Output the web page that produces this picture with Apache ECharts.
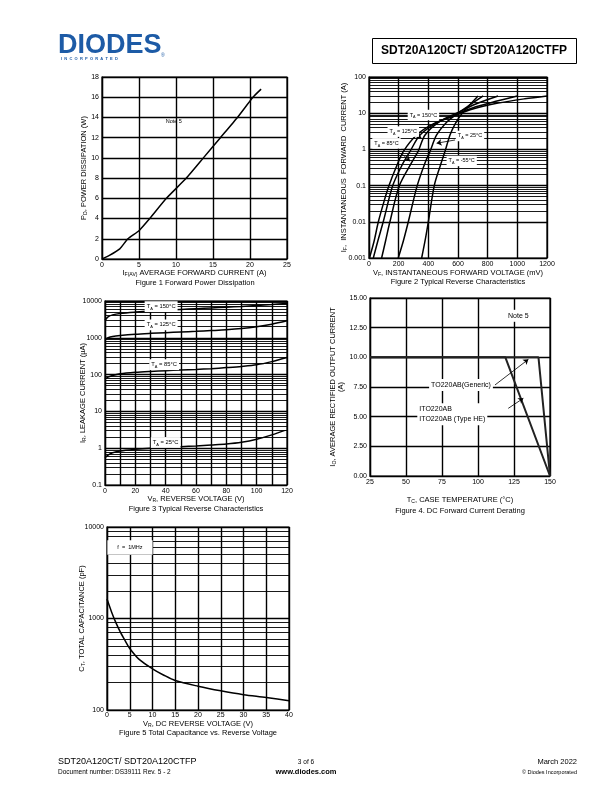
<!DOCTYPE html>
<html><head><meta charset="utf-8">
<script src="https://cdn.jsdelivr.net/npm/echarts@6/dist/echarts.min.js"></script>
<style>html,body{margin:0;padding:0;background:#fff}#c{width:612px;height:792px}</style>
</head><body><div id="c"></div>
<script>
const FONT = '"Liberation Sans", Arial, sans-serif';

// ---------- Figure 1: Forward power dissipation ----------
const fig1Current = [0, 1, 2.4, 3.5, 5, 6.45, 8.7, 11.4, 13.7, 16, 18.3, 20.4, 21.5];
const fig1Power   = [0, 0.35, 1.0, 2.0, 2.8, 4.0, 6.0, 8.0, 10.0, 12.0, 14.0, 16.0, 16.8];

// ---------- Figure 2: forward characteristics (mV, A) ----------
const fig2Names = ['150', '125', '85', '25', '-55'];
const fig2_150 = [[3,0.001],[35,0.003],[63,0.01],[100,0.035],[135,0.1],[180,0.3],[231,0.87],[321,2.5],[430,5],[560,8],[700,13],[870,19],[1050,25],[1200,30]];
const fig2_125 = [[29,0.001],[60,0.003],[96,0.01],[160,0.1],[220,0.35],[276,0.87],[344,2.5],[460,5.5],[580,9],[720,15],[870,22],[1000,30]];
const fig2_85  = [[85,0.001],[112,0.003],[141,0.01],[205,0.1],[290,0.45],[332,0.9],[378,2.5],[480,6],[590,10],[720,18],[870,30]];
const fig2_25  = [[197,0.001],[232,0.003],[265,0.01],[325,0.1],[380,0.45],[411,0.87],[456,2.5],[530,6],[600,10],[690,18],[770,30]];
const fig2_m55 = [[355,0.001],[378,0.003],[400,0.01],[440,0.1],[480,0.35],[512,0.87],[546,2.5],[580,5],[620,9],[680,17],[735,30]];

// ---------- Figure 3: reverse characteristics ----------
const fig3Voltage = [0, 2, 5, 10, 20, 30, 40, 50, 60, 70, 80, 90, 100, 110, 120];
const fig3_150 = [3000, 3700, 4200, 4600, 5000, 5300, 5600, 5900, 6200, 6500, 6800, 7100, 7500, 8000, 8600];
const fig3_125 = [900, 1000, 1080, 1150, 1250, 1320, 1380, 1440, 1500, 1570, 1650, 1780, 2000, 2350, 2900];
const fig3_85  = [75, 85, 95, 105, 115, 122, 128, 133, 138, 145, 155, 167, 185, 225, 290];
const fig3_25  = [0.55, 0.65, 0.75, 0.84, 0.93, 1.0, 1.05, 1.1, 1.15, 1.22, 1.3, 1.45, 1.75, 2.3, 3.2];

// ---------- Figure 4: derating ----------
const fig4TempTO  = [25, 142, 150];
const fig4CurrTO  = [10, 10, 0];
const fig4TempITO = [25, 119, 150];
const fig4CurrITO = [10, 10, 0];

// ---------- Figure 5: capacitance ----------
const fig5Voltage = [0, 1, 2, 3, 4, 5, 7, 10, 12.5, 15, 20, 25, 30, 35, 40];
const fig5Cap     = [1630, 1180, 890, 700, 570, 470, 360, 282, 240, 210, 182, 162, 147, 137, 126];

const zip = (a, b) => a.map((v, i) => [v, b[i]]);
const minorVals = (lo, hi) => { const r = []; for (let k = lo; k < hi; k++) for (let m = 2; m <= 9; m++) r.push({yAxis: +(m * Math.pow(10, k)).toPrecision(3)}); return r; };
const logFmt = v => String(+Number(v).toPrecision(3));
const plainFmt = v => String(v);

const BLK = '#000';
const axisLine = {show: true, lineStyle: {color: BLK, width: 1.2}};
const split = {show: true, lineStyle: {color: BLK, width: 1.4}};
const tick = {show: false};
const lbl = {color: BLK, fontSize: 7, fontFamily: FONT, margin: 3, formatter: plainFmt};
const rich = (fs) => ({n: {fontSize: fs, fontFamily: FONT, color: BLK}, s: {fontSize: fs * 0.68, fontFamily: FONT, color: BLK, verticalAlign: 'bottom'}});
const nameStyle = {color: BLK, fontSize: 7.5, fontFamily: FONT, rich: rich(7.5)};
const minorLine = (data) => ({z: 1, silent: true, symbol: ['none', 'none'], label: {show: false}, lineStyle: {color: BLK, width: 0.9, type: 'solid'}, emphasis: {disabled: true}, data});
const arrowLine = (pairs) => ({z: 6, silent: true, symbol: ['none', 'arrow'], symbolSize: 5, label: {show: false}, lineStyle: {color: BLK, width: 0.8, type: 'solid'}, emphasis: {disabled: true},
  data: pairs.map(p => [{coord: p[0]}, {coord: p[1]}])});
const textMarks = (items, fs, opts) => ({z: 10, silent: true, symbol: 'rect', symbolSize: 1, itemStyle: {color: 'rgba(0,0,0,0)'},
  data: items.map(it => ({coord: it[0], value: 0, label: Object.assign({show: true, position: it[2] || 'inside', distance: 0, formatter: it[1], color: BLK, fontSize: fs, fontFamily: FONT,
    backgroundColor: '#fff', padding: [1, 2], lineHeight: fs + 3, rich: rich(fs)}, opts || {})}))});
const lineS = (x, y, data, extra) => Object.assign({type: 'line', xAxisIndex: x, yAxisIndex: y, data, showSymbol: false, symbol: 'none', smooth: 0.3, silent: true,
  lineStyle: {color: BLK, width: 1.5}, itemStyle: {color: BLK}, animation: false}, extra || {});

const grids = [
  {left: 102, top: 77, width: 185, height: 182},
  {left: 369, top: 77, width: 178, height: 181},
  {left: 105, top: 301, width: 182, height: 184},
  {left: 370, top: 298, width: 180, height: 178},
  {left: 107, top: 527, width: 182, height: 183}
].map(g => Object.assign(g, {show: true, borderColor: BLK, borderWidth: 1.2, backgroundColor: 'transparent', containLabel: false}));

const xAxes = [
  {gridIndex: 0, type: 'value', min: 0, max: 25, interval: 5, name: '{n|I}{s|F(AV)}{n| AVERAGE FORWARD CURRENT (A)}', nameGap: 10},
  {gridIndex: 1, type: 'value', min: 0, max: 1200, interval: 200, name: '{n|V}{s|F}{n|, INSTANTANEOUS FORWARD VOLTAGE (mV)}', nameGap: 11},
  {gridIndex: 2, type: 'value', min: 0, max: 120, interval: 20, name: '{n|V}{s|R}{n|, REVERSE VOLTAGE (V)}', nameGap: 10,
    minorTick: {show: false, splitNumber: 2}, minorSplitLine: {show: true, lineStyle: {color: BLK, width: 1.4}}},
  {gridIndex: 3, type: 'value', min: 25, max: 150, interval: 25, name: '{n|T}{s|C}{n|, CASE TEMPERATURE (°C)}', nameGap: 20},
  {gridIndex: 4, type: 'value', min: 0, max: 40, interval: 5, name: '{n|V}{s|R}{n|, DC REVERSE VOLTAGE (V)}', nameGap: 10,
    axisLabel: Object.assign({}, lbl, {margin: 2})}
].map(a => Object.assign({nameLocation: 'middle', nameMoveOverlap: false, nameTextStyle: nameStyle, axisLine, axisTick: tick, splitLine: split, axisLabel: lbl}, a));

const yAxes = [
  {gridIndex: 0, type: 'value', min: 0, max: 18, interval: 2, name: '{n|P}{s|D}{n|, POWER DISSIPATION (W)}', nameGap: 14},
  {gridIndex: 1, type: 'log', logBase: 10, min: 0.001, max: 100, name: '{n|I}{s|F}{n|,  INSTANTANEOUS  FORWARD  CURRENT (A)}', nameGap: 21, axisLabel: Object.assign({}, lbl, {formatter: logFmt})},
  {gridIndex: 2, type: 'log', logBase: 10, min: 0.1, max: 10000, name: '{n|I}{s|R}{n|, LEAKAGE CURRENT (µA)}', nameGap: 18, axisLabel: Object.assign({}, lbl, {formatter: logFmt})},
  {gridIndex: 3, type: 'value', min: 0, max: 15, interval: 2.5, name: '{n|I}{s|O}{n|, AVERAGE RECTIFIED OUTPUT CURRENT}\n{n|(A)}', nameGap: 25, axisLabel: Object.assign({}, lbl, {formatter: v => v.toFixed(2)})},
  {gridIndex: 4, type: 'log', logBase: 10, min: 100, max: 10000, name: '{n|C}{s|T}{n|, TOTAL CAPACITANCE (pF)}', nameGap: 21, axisLabel: Object.assign({}, lbl, {formatter: logFmt})}
].map(a => Object.assign({nameLocation: 'middle', nameMoveOverlap: false, nameTextStyle: nameStyle, axisLine, axisTick: tick, splitLine: split, axisLabel: lbl}, a));

const series = [
  lineS(0, 0, zip(fig1Current, fig1Power), {smooth: 0.15, markPoint: textMarks([[[9.7, 13.6], 'Note 5']], 5.5, {backgroundColor: 'transparent'})}),

  lineS(1, 1, fig2_150, {markLine: minorLine(minorVals(-3, 2))}),
  lineS(1, 1, fig2_125, {markLine: arrowLine([[[320, 2.5], [354, 2.04]], [[221, 0.76], [277, 0.47]], [[580, 1.82], [456, 1.48]]])}),
  lineS(1, 1, fig2_85, {markPoint: textMarks([[[367, 8.9], '{n|T}{s|A}{n| = 150°C}'], [[231, 3.1], '{n|T}{s|A}{n| = 125°C}'], [[118, 1.47], '{n|T}{s|A}{n| = 85°C}'],
     [[681, 2.35], '{n|T}{s|A}{n| = 25°C}'], [[625, 0.48], '{n|T}{s|A}{n| = -55°C}']], 5.5)}),
  lineS(1, 1, fig2_25),
  lineS(1, 1, fig2_m55),

  lineS(2, 2, zip(fig3Voltage, fig3_150), {markLine: minorLine(minorVals(-1, 4))}),
  lineS(2, 2, zip(fig3Voltage, fig3_125)),
  lineS(2, 2, zip(fig3Voltage, fig3_85)),
  lineS(2, 2, zip(fig3Voltage, fig3_25), {markPoint: textMarks([[[37, 7000], '{n|T}{s|A}{n| = 150°C}'], [[37, 2250], '{n|T}{s|A}{n| = 125°C}'],
     [[39, 186], '{n|T}{s|A}{n| = 85°C}'], [[40, 1.43], '{n|T}{s|A}{n| = 25°C}']], 5.8)}),

  lineS(3, 3, zip(fig4TempTO, fig4CurrTO), {smooth: false, lineStyle: {color: '#222', width: 2},
     markLine: arrowLine([[[111.8, 7.67], [135, 9.83]], [[121, 5.7], [131.5, 6.55]]]),
     markPoint: textMarks([[[128, 13.5], 'Note 5'], [[88.2, 7.67], 'TO220AB(Generic)'], [[57.5, 5.2], 'ITO220AB\nITO220AB (Type HE)', 'right']], 7)}),
  lineS(3, 3, zip(fig4TempITO, fig4CurrITO), {smooth: false, lineStyle: {color: '#222', width: 2}}),

  lineS(4, 4, zip(fig5Voltage, fig5Cap), {markLine: minorLine(minorVals(2, 4)), markPoint: textMarks([[[5.05, 5970], 'f  =  1MHz']], 5.5, {padding: [3, 10]})})
];

const T = (x, y, text, fs, extra) => ({type: 'text', silent: true, z: 20, style: Object.assign({x, y, text, fontSize: fs, fontFamily: FONT, fill: BLK, align: 'center', verticalAlign: 'middle'}, extra || {})});

const graphic = [
  T(58, 46, 'DIODES', 27, {align: 'left', fontWeight: 'bold', fill: '#1d5ba6'}),
  T(61, 59, 'I  N  C  O  R  P  O  R  A  T  E  D', 4, {align: 'left', fill: '#1d5ba6', fontWeight: 'bold'}),
  T(161, 56, '®', 5, {align: 'left', fill: '#1d5ba6'}),
  {type: 'rect', silent: true, shape: {x: 372.5, y: 38.5, width: 204, height: 25}, style: {fill: 'none', stroke: BLK, lineWidth: 1}},
  T(474, 51, 'SDT20A120CT/ SDT20A120CTFP', 12, {fontWeight: 'bold'}),

  T(195, 283, 'Figure 1 Forward Power Dissipation', 7.5),
  T(458, 282, 'Figure 2 Typical Reverse Characteristics', 7.5),
  T(196, 509, 'Figure 3 Typical Reverse Characteristics', 7.5),
  T(460, 511, 'Figure 4. DC Forward Current Derating', 7.5),
  T(198, 733, 'Figure 5 Total Capacitance vs. Reverse Voltage', 7.5),

  T(58, 762, 'SDT20A120CT/ SDT20A120CTFP', 9, {align: 'left'}),
  T(58, 772, 'Document number: DS39111 Rev. 5 - 2', 6.5, {align: 'left'}),
  T(306, 762, '3 of 6', 6.5),
  T(306, 772, 'www.diodes.com', 7.5, {fontWeight: 'bold'}),
  T(577, 762, 'March 2022', 7.5, {align: 'right'}),
  T(577, 772, '© Diodes Incorporated', 5.5, {align: 'right'})
];

const chart = echarts.init(document.getElementById('c'), null, {renderer: 'canvas', width: 612, height: 792});
chart.setOption({animation: false, backgroundColor: '#fff', grid: grids, xAxis: xAxes, yAxis: yAxes, series, graphic, tooltip: {show: false}});
</script></body></html>
